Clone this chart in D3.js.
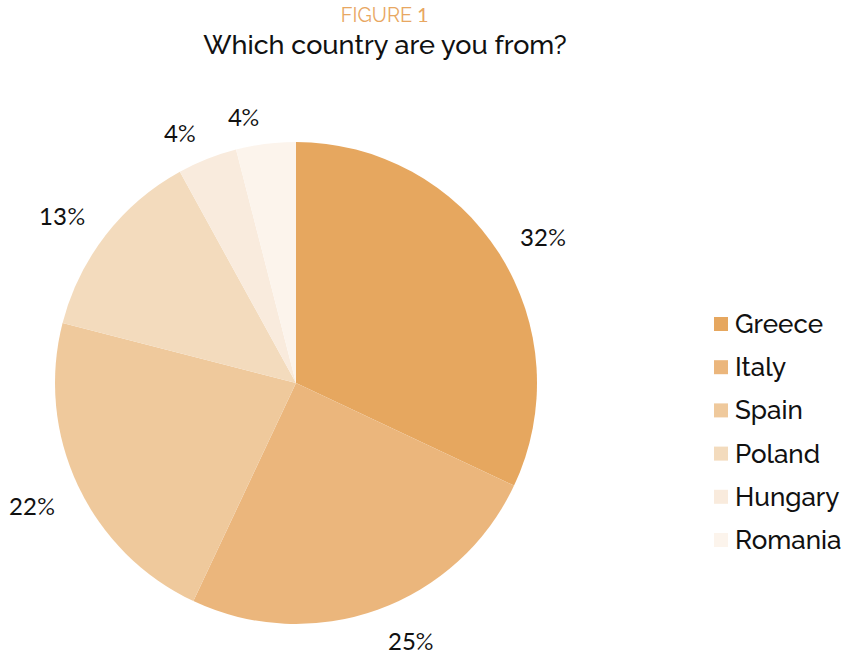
<!DOCTYPE html>
<html>
<head>
<meta charset="utf-8">
<script src="https://cdn.jsdelivr.net/npm/d3@7"></script>
<style>
  /* Lining figures for digits; letters and symbols stay in Raleway */
  @font-face {
    font-family: "LiningDigits";
    src: local("Lato Regular"), local("Lato-Regular"), local("Lato");
    unicode-range: U+0030-0039;
  }
  body { margin: 0; background: #fff; }
  svg {
    display: block;
    font-family: "LiningDigits", Raleway, Lato, "Open Sans", sans-serif;
  }
</style>
</head>
<body>
<svg id="chart" width="845" height="659"></svg>
<script>
// Survey answers: share of respondents by country (%)
const countries = ["Greece", "Italy", "Spain", "Poland", "Hungary", "Romania"];
const shares = [32, 25, 22, 13, 4, 4];
const colors = ["#E6A75F", "#EBB67C", "#EFC99C", "#F3DBBD", "#F9EBDD", "#FCF4EC"];

const svg = d3.select("#chart");
const cx = 296, cy = 383, radius = 241;
const labelRadius = 262, labelSize = 24, capHeight = labelSize * 0.72;

const data = countries.map((c, i) => ({ country: c, value: shares[i] }));
const color = d3.scaleOrdinal().domain(countries).range(colors);

const pie = d3.pie().value(d => d.value).sort(null);
const arc = d3.arc().innerRadius(0).outerRadius(radius);

// Titles
svg.append("text")
  .attr("x", 385).attr("y", 22)
  .attr("text-anchor", "middle")
  .attr("font-size", 20)
  .attr("fill", "#E8A762")
  .text("FIGURE 1");
svg.append("text")
  .attr("x", 385).attr("y", 54)
  .attr("text-anchor", "middle")
  .attr("font-size", 27)
  .attr("font-weight", 500)
  .attr("fill", "#111")
  .text("Which country are you from?");

// Pie slices
const g = svg.append("g").attr("transform", `translate(${cx},${cy})`);
const arcs = pie(data);
g.selectAll("path.slice")
  .data(arcs)
  .join("path")
  .attr("class", "slice")
  .attr("d", arc)
  .attr("fill", d => color(d.data.country));

// Percentage labels: the label box sits just outside the slice's mid-angle point,
// on the side facing away from the pie centre
function labelPos(d) {
  const a = (d.startAngle + d.endAngle) / 2;
  const px = labelRadius * Math.sin(a);
  const py = -labelRadius * Math.cos(a);
  const right = Math.sin(a) >= 0;
  const top = Math.cos(a) >= 0;
  return {
    x: right ? px + 3 : px - 4,
    y: (top ? py : py + capHeight) + 3,
    anchor: right ? "start" : "end"
  };
}
g.selectAll("text.pct")
  .data(arcs)
  .join("text")
  .attr("class", "pct")
  .attr("x", d => labelPos(d).x)
  .attr("y", d => labelPos(d).y)
  .attr("text-anchor", d => labelPos(d).anchor)
  .attr("font-size", labelSize)
  .attr("font-weight", 500)
  .attr("fill", "#111")
  .text(d => d.data.value + "%");

// Legend
const legendY = d3.scalePoint().domain(countries).range([324, 540]);
const legend = svg.append("g");
const items = legend.selectAll("g")
  .data(countries)
  .join("g")
  .attr("transform", d => `translate(714,${legendY(d)})`);
items.append("rect")
  .attr("x", 0).attr("y", -7)
  .attr("width", 14).attr("height", 14)
  .attr("fill", d => color(d));
items.append("text")
  .attr("x", 21).attr("y", 0)
  .attr("dominant-baseline", "central")
  .attr("font-size", 26)
  .attr("font-weight", 500)
  .attr("fill", "#111")
  .text(d => d);
</script>
</body>
</html>
